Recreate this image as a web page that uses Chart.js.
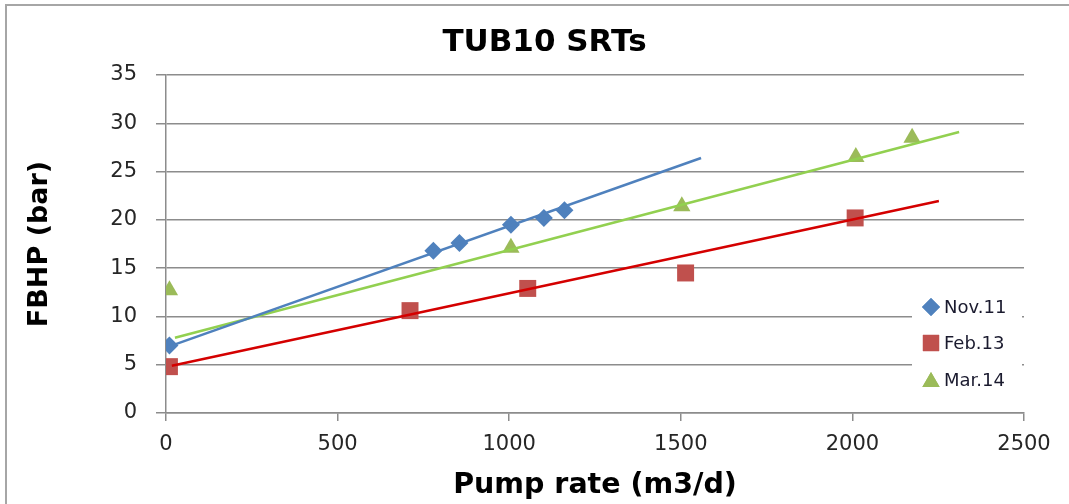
<!DOCTYPE html>
<html>
<head>
<meta charset="utf-8">
<script src="https://cdn.jsdelivr.net/npm/chart.js@4.4.0/dist/chart.umd.min.js"></script>
<style>
  html, body { margin: 0; padding: 0; background: #fff; }
  #wrap { width: 1069px; height: 504px; }
</style>
</head>
<body>
<div id="wrap"><canvas id="chart"></canvas></div>
<script>
// datos
const seriesNames = ["Nov.11", "Feb.13", "Mar.14"];
const nov11Rate = [10, 779, 855, 1005, 1101, 1161];
const nov11Fbhp = [7.0, 16.8, 17.6, 19.5, 20.2, 21.0];
const feb13Rate = [10, 711, 1054, 1514, 2008];
const feb13Fbhp = [4.8, 10.6, 12.9, 14.5, 20.2];
const mar14Rate = [10, 1005, 1503, 2010, 2174];
const mar14Fbhp = [12.7, 17.1, 21.4, 26.5, 28.5];

// extremos de las líneas de tendencia
const nov11TrendRate = [10, 1559];
const nov11TrendFbhp = [6.9, 26.4];
const feb13TrendRate = [17, 2252];
const feb13TrendFbhp = [4.9, 21.95];
const mar14TrendRate = [26, 2311];
const mar14TrendFbhp = [7.8, 29.1];

const xTicks = [0, 500, 1000, 1500, 2000, 2500];
const yTicks = [0, 5, 10, 15, 20, 25, 30, 35];

const markerColors = ["#4F81BD", "#C0504D", "#9BBB59"];
const trendColors = ["#4F81BD", "#D40000", "#92D050"];
const markerStyles = ["rectRot", "rect", "triangle"];
const markerRadius = [9, 12, 10];

function toPoints(xs, ys) {
  return xs.map((x, i) => ({ x: x, y: ys[i] }));
}

const pointSets = [
  toPoints(nov11Rate, nov11Fbhp),
  toPoints(feb13Rate, feb13Fbhp),
  toPoints(mar14Rate, mar14Fbhp),
];
const trendSets = [
  toPoints(nov11TrendRate, nov11TrendFbhp),
  toPoints(feb13TrendRate, feb13TrendFbhp),
  toPoints(mar14TrendRate, mar14TrendFbhp),
];

const datasets = [];
pointSets.forEach((pts, i) => {
  datasets.push({
    label: seriesNames[i],
    data: pts,
    pointStyle: markerStyles[i],
    pointRadius: markerRadius[i],
    pointHoverRadius: markerRadius[i],
    backgroundColor: markerColors[i],
    borderColor: markerColors[i],
    borderWidth: 0,
    showLine: false,
    order: 2,
  });
});
trendSets.forEach((pts, i) => {
  datasets.push({
    type: "line",
    label: seriesNames[i] + " trend",
    data: pts,
    borderColor: trendColors[i],
    borderWidth: 2.5,
    pointRadius: 0,
    fill: false,
    order: 1,
  });
});

// marco exterior y fondo blanco
const frame = {
  id: "frame",
  beforeDraw(chart) {
    const ctx = chart.ctx;
    ctx.save();
    ctx.fillStyle = "#fff";
    ctx.fillRect(0, 0, chart.width, chart.height);
    ctx.strokeStyle = "#a6a6a6";
    ctx.lineWidth = 2;
    ctx.strokeRect(6, 5, 1200, 700);
    ctx.restore();
  },
};

// leyenda dentro del área del gráfico
const sideLegend = {
  id: "sideLegend",
  afterDraw(chart) {
    const ctx = chart.ctx;
    ctx.save();
    ctx.fillStyle = "#fff";
    ctx.fillRect(912, 286, 110, 112);
    const rows = [307, 343, 380];
    ctx.font = "18px 'DejaVu Sans'";
    ctx.textBaseline = "middle";
    ctx.textAlign = "left";
    for (let i = 0; i < 3; i++) {
      const ds = chart.data.datasets[i];
      ctx.fillStyle = ds.backgroundColor;
      const r = i === 1 ? 11.5 : (i === 0 ? 9 : 10);
      Chart.helpers.drawPoint(ctx, { pointStyle: ds.pointStyle, radius: r, borderWidth: 0 }, 931, rows[i] + (i === 2 ? 2 : 0));
      ctx.fill();
      ctx.fillStyle = "#1a1a2e";
      ctx.fillText(ds.label, 944, rows[i] + 1);
    }
    ctx.restore();
  },
};

new Chart(document.getElementById("chart"), {
  type: "scatter",
  data: { datasets: datasets },
  options: {
    responsive: true,
    maintainAspectRatio: false,
    animation: false,
    layout: { padding: { left: 20, right: 0, top: 5, bottom: 0 } },
    plugins: {
      legend: { display: false },
      tooltip: { enabled: false },
      title: {
        display: true,
        text: "TUB10 SRTs",
        color: "#000",
        font: { family: "'DejaVu Sans', sans-serif", size: 31, weight: "bold" },
        padding: { top: 19.4, bottom: 13.4 },
      },
    },
    scales: {
      x: {
        type: "linear",
        min: 0,
        max: 2500,
        afterBuildTicks(scale) {
          scale.ticks = xTicks.map((v) => ({ value: v }));
        },
        afterFit(scale) {
          scale.height = 91;
        },
        ticks: {
          color: "#262626",
          font: { family: "'DejaVu Sans'", size: 21 },
          padding: 11,
          callback: (v) => String(v),
        },
        grid: {
          drawOnChartArea: false,
          drawTicks: true,
          tickLength: 8,
          color: "#8c8c8c",
          lineWidth: 1.5,
        },
        border: { display: true, color: "#8c8c8c", width: 1.5 },
        title: {
          display: true,
          text: "Pump rate (m3/d)",
          color: "#000",
          font: { family: "'DejaVu Sans'", size: 28.5, weight: "bold" },
          padding: { top: 0, bottom: 1 },
        },
      },
      y: {
        type: "linear",
        min: 0,
        max: 35,
        afterBuildTicks(scale) {
          scale.ticks = yTicks.map((v) => ({ value: v }));
        },
        afterFit(scale) {
          scale.width = 146;
        },
        ticks: {
          color: "#262626",
          font: { family: "'DejaVu Sans'", size: 21 },
          padding: 19,
          callback: (v) => String(v),
        },
        grid: {
          drawOnChartArea: true,
          drawTicks: true,
          tickLength: 10,
          color: "#8c8c8c",
          lineWidth: 1.5,
        },
        border: { display: true, color: "#8c8c8c", width: 1.5 },
        title: {
          display: true,
          text: "FBHP (bar)",
          color: "#000",
          font: { family: "'DejaVu Sans'", size: 27, weight: "bold" },
          padding: { top: 4, bottom: 0 },
        },
      },
      spacer: {
        type: "linear",
        position: "right",
        display: true,
        afterFit(scale) {
          scale.width = 45;
        },
        ticks: { display: false },
        grid: { display: false },
        border: { display: false },
      },
    },
  },
  plugins: [frame, sideLegend],
});
</script>
</body>
</html>
